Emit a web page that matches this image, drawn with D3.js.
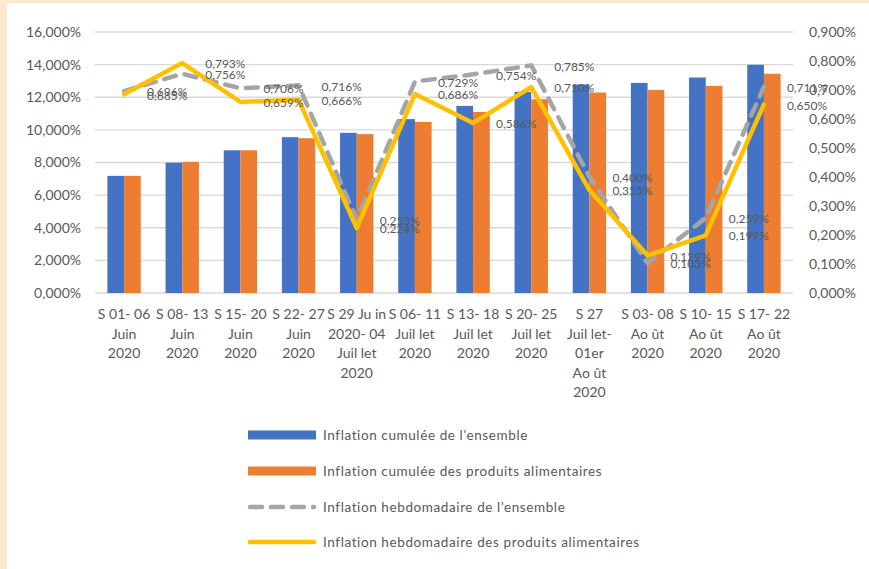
<!DOCTYPE html>
<html><head><meta charset="utf-8">
<script src="https://cdn.jsdelivr.net/npm/d3@7/dist/d3.min.js"></script>
<style>
body{margin:0;background:#fff;}
svg text{font-family:Lato,"Liberation Sans",sans-serif;}
</style>
</head><body>
<svg id="chart" width="869" height="569"></svg>
<script>
const categories = [
  ["S 01- 06","Juin","2020"],
  ["S 08- 13","Juin","2020"],
  ["S 15- 20","Juin","2020"],
  ["S 22- 27","Juin","2020"],
  ["S 29 Ju in","2020- 04","Juil let","2020"],
  ["S 06- 11","Juil let","2020"],
  ["S 13- 18","Juil let","2020"],
  ["S 20- 25","Juil let","2020"],
  ["S 27","Juil let-","01er","Ao ût","2020"],
  ["S 03- 08","Ao ût","2020"],
  ["S 10- 15","Ao ût","2020"],
  ["S 17- 22","Ao ût","2020"]
];
const cumulEnsemble = [7.18, 7.99, 8.75, 9.55, 9.82, 10.66, 11.47, 12.33, 12.78, 12.88, 13.21, 13.99];
const cumulAlim     = [7.18, 8.04, 8.75, 9.49, 9.74, 10.49, 11.10, 11.88, 12.29, 12.45, 12.70, 13.44];
const hebdoEnsemble = [0.696, 0.756, 0.706, 0.716, 0.253, 0.729, 0.754, 0.785, 0.400, 0.103, 0.259, 0.711];
const hebdoAlim     = [0.685, 0.793, 0.659, 0.666, 0.224, 0.686, 0.586, 0.710, 0.355, 0.129, 0.199, 0.650];
const leftTicks  = [0, 2, 4, 6, 8, 10, 12, 14, 16];
const rightTicks = [0, 0.1, 0.2, 0.3, 0.4, 0.5, 0.6, 0.7, 0.8, 0.9];
const seriesNames = [
  "Inflation cumulée de l'ensemble",
  "Inflation cumulée des produits alimentaires",
  "Inflation hebdomadaire de l'ensemble",
  "Inflation hebdomadaire des produits alimentaires"
];

const C = {blue:"#4472C4", orange:"#ED7D31", gray:"#A5A5A5", yellow:"#FFC000", text:"#595959", grid:"#D9D9D9", frame:"#FDE9CD"};
const fmt = v => v.toFixed(3).replace(".", ",") + "%";

const svg = d3.select("#chart");
// frame
svg.append("rect").attr("x",0).attr("y",0).attr("width",869).attr("height",569).attr("fill",C.frame);
svg.append("rect").attr("x",7).attr("y",3).attr("width",862).attr("height",566).attr("fill","#fff");

const x0 = 95, x1 = 793, yTop = 32, yBot = 293;
const idx = d3.range(categories.length);
const x = d3.scaleBand().domain(idx).range([x0, x1]).padding(0);
const yL = d3.scaleLinear().domain([0, 16]).range([yBot, yTop]);
const yR = d3.scaleLinear().domain([0, 0.9]).range([yBot, yTop]);
const groupW = x.bandwidth() * 0.574;
const barW = groupW / 2;
const cx = i => x(i) + x.bandwidth() / 2;

// grid
svg.append("g").selectAll("line").data(leftTicks).join("line")
  .attr("x1", x0).attr("x2", x1)
  .attr("y1", d => yL(d)).attr("y2", d => yL(d))
  .attr("stroke", C.grid).attr("stroke-width", 1.3);

// left axis
const axL = svg.append("g").attr("transform", `translate(${x0},0)`)
  .call(d3.axisLeft(yL).tickValues(leftTicks).tickFormat(fmt).tickSize(0).tickPadding(14));
axL.select(".domain").remove();
axL.selectAll("text").attr("fill", C.text).style("font-size", "14px");

// right axis
const axR = svg.append("g").attr("transform", `translate(${x1},0)`)
  .call(d3.axisRight(yR).tickValues(rightTicks).tickFormat(fmt).tickSize(0).tickPadding(16));
axR.select(".domain").remove();
axR.selectAll("text").attr("fill", C.text).style("font-size", "14px");

// bars
const bars = svg.append("g");
bars.selectAll("rect.b1").data(cumulEnsemble).join("rect").attr("class","b1")
  .attr("x", (d,i) => cx(i) - barW).attr("width", barW)
  .attr("y", d => yL(d)).attr("height", d => yL(0) - yL(d)).attr("fill", C.blue);
bars.selectAll("rect.b2").data(cumulAlim).join("rect").attr("class","b2")
  .attr("x", (d,i) => cx(i)).attr("width", barW)
  .attr("y", d => yL(d)).attr("height", d => yL(0) - yL(d)).attr("fill", C.orange);

// lines
const line = d3.line().x((d,i) => cx(i)).y(d => yR(d));
svg.append("path").datum(hebdoEnsemble).attr("d", line)
  .attr("fill","none").attr("stroke", C.gray).attr("stroke-width", 4.5)
  .attr("stroke-dasharray", "12,9").attr("stroke-linecap","round").attr("stroke-linejoin","round");
svg.append("path").datum(hebdoAlim).attr("d", line)
  .attr("fill","none").attr("stroke", C.yellow).attr("stroke-width", 4.5)
  .attr("stroke-linecap","round").attr("stroke-linejoin","round");

// data labels
const lab = svg.append("g").style("font-size","12px").attr("fill", C.text);
[hebdoEnsemble, hebdoAlim].forEach(series => {
  lab.selectAll(null).data(series).join("text")
    .attr("x", (d,i) => cx(i) + 23).attr("y", d => yR(d) + 1)
    .attr("dy", "0.35em").text(d => fmt(d));
});

// x labels
const xl = svg.append("g").style("font-size","14px").attr("fill", C.text).attr("text-anchor","middle");
categories.forEach((lines, i) => {
  const t = xl.append("text").attr("x", cx(i)).attr("y", 319);
  lines.forEach((s, k) => t.append("tspan").attr("x", cx(i)).attr("y", 319 + k * 19.5).text(s));
});

// legend
const legY = [435, 471, 507, 542];
const lg = svg.append("g");
const sx0 = 248, sx1 = 316;
lg.append("rect").attr("x", sx0).attr("y", legY[0]-4.5).attr("width", sx1-sx0).attr("height", 9).attr("fill", C.blue);
lg.append("rect").attr("x", sx0).attr("y", legY[1]-4.5).attr("width", sx1-sx0).attr("height", 9).attr("fill", C.orange);
lg.append("line").attr("x1", sx0+2).attr("x2", sx1-2).attr("y1", legY[2]).attr("y2", legY[2])
  .attr("stroke", C.gray).attr("stroke-width", 4.5).attr("stroke-dasharray","12,9").attr("stroke-linecap","round");
lg.append("line").attr("x1", sx0+2).attr("x2", sx1-2).attr("y1", legY[3]).attr("y2", legY[3])
  .attr("stroke", C.yellow).attr("stroke-width", 4.5).attr("stroke-linecap","round");
lg.selectAll("text").data(seriesNames).join("text")
  .attr("x", 323).attr("y", (d,i) => legY[i]).attr("dy","0.35em")
  .attr("fill", C.text).style("font-size","13.5px").style("letter-spacing","0.6px")
  .text(d => d);
</script>
</body></html>
